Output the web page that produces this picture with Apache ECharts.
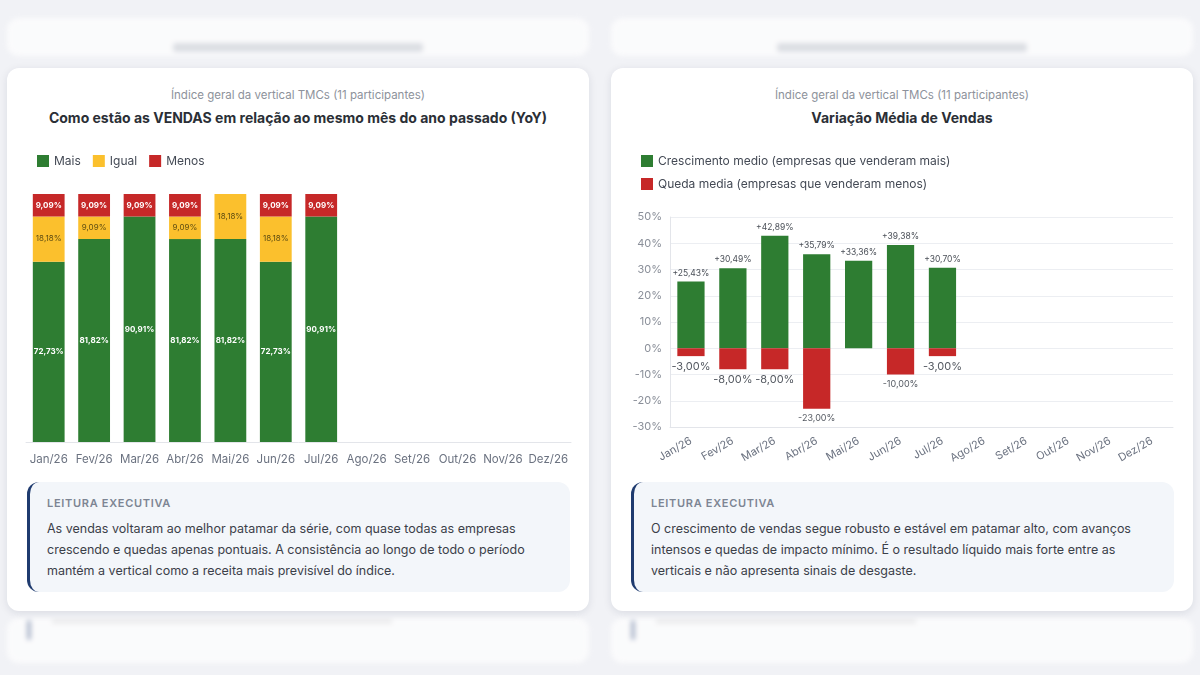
<!DOCTYPE html>
<html><head><meta charset="utf-8">
<script src="https://cdn.jsdelivr.net/npm/echarts@6/dist/echarts.min.js"></script>
<style>
html,body{margin:0;padding:0;width:1200px;height:675px;overflow:hidden;background:#f1f2f6;font-family:Inter,"Noto Sans",sans-serif;}
.ghost{position:absolute;background:#fff;border-radius:12px;opacity:.7;filter:blur(2.5px);}
.ghost .t{position:absolute;left:50%;transform:translateX(-50%);width:250px;height:9px;background:#d3d6dc;border-radius:3px;}
.card{position:absolute;top:68px;width:582px;height:543px;background:#fff;border-radius:12px;box-shadow:0 2px 8px rgba(20,30,60,.10);}
.sub{position:absolute;top:20px;left:0;width:100%;text-align:center;font-size:11.5px;color:#8d929b;}
.title{position:absolute;top:41px;left:0;width:100%;text-align:center;font-size:14px;font-weight:700;color:#2b2f36;}
.chart{position:absolute;left:0;top:75px;width:582px;height:330px;}
.exec{position:absolute;left:20px;top:414px;width:543px;height:110px;box-sizing:border-box;background:#f3f6fa;border-left:3px solid #1f3b6f;border-radius:12px;padding:14px 20px 0 17px;}
.exec .h{font-size:11px;font-weight:600;letter-spacing:.7px;color:#7d8593;margin-bottom:8px;}
.exec .p{font-size:12.5px;line-height:21px;color:#3b4049;}
</style></head><body>
<div class="ghost" style="left:7px;top:18px;width:582px;height:38px"><div class="t" style="top:25px"></div></div>
<div class="ghost" style="left:611px;top:18px;width:582px;height:38px"><div class="t" style="top:25px"></div></div>
<div class="ghost" style="left:7px;top:618px;width:582px;height:45px"><div style="position:absolute;left:20px;top:2px;width:4px;height:20px;background:#1f3b6f;opacity:.5;border-radius:2px"></div><div style="position:absolute;left:45px;top:2px;width:340px;height:3px;background:#ddd"></div></div>
<div class="ghost" style="left:611px;top:618px;width:582px;height:45px"><div style="position:absolute;left:20px;top:2px;width:4px;height:20px;background:#1f3b6f;opacity:.5;border-radius:2px"></div><div style="position:absolute;left:45px;top:2px;width:260px;height:3px;background:#ddd"></div></div>

<div class="card" style="left:7px">
  <div class="sub">Índice geral da vertical TMCs (11 participantes)</div>
  <div class="title">Como estão as VENDAS em relação ao mesmo mês do ano passado (YoY)</div>
  <div class="chart" id="c1"></div>
  <div class="exec"><div class="h">LEITURA EXECUTIVA</div><div class="p">As vendas voltaram ao melhor patamar da série, com quase todas as empresas crescendo e quedas apenas pontuais. A consistência ao longo de todo o período mantém a vertical como a receita mais previsível do índice.</div></div>
</div>
<div class="card" style="left:611px">
  <div class="sub">Índice geral da vertical TMCs (11 participantes)</div>
  <div class="title">Variação Média de Vendas</div>
  <div class="chart" id="c2"></div>
  <div class="exec"><div class="h">LEITURA EXECUTIVA</div><div class="p">O crescimento de vendas segue robusto e estável em patamar alto, com avanços intensos e quedas de impacto mínimo. É o resultado líquido mais forte entre as verticais e não apresenta sinais de desgaste.</div></div>
</div>
<script>
const months = ['Jan/26','Fev/26','Mar/26','Abr/26','Mai/26','Jun/26','Jul/26','Ago/26','Set/26','Out/26','Nov/26','Dez/26'];
const mais  = [72.73, 81.82, 90.91, 81.82, 81.82, 72.73, 90.91];
const igual = [18.18, 9.09, null, 9.09, 18.18, 18.18, null];
const menos = [9.09, 9.09, 9.09, 9.09, null, 9.09, 9.09];
const crescimento = [25.43, 30.49, 42.89, 35.79, 33.36, 39.38, 30.70];
const queda = [-3.00, -8.00, -8.00, -23.00, null, -10.00, -3.00];
const quedaLabelSize = [11, 11, 11, 9, 9, 9, 11];

const GREEN='#2e7d32', YELLOW='#fbc02d', RED='#c62828';
const fmt = v => v.toFixed(2).replace('.', ',') + '%';
const FONT = 'Inter';

const c1 = echarts.init(document.getElementById('c1'));
c1.setOption({
  animation:false,
  textStyle:{fontFamily:FONT},
  legend:{left:25, top:7, itemWidth:12, itemHeight:12, itemGap:12, icon:'rect',
    textStyle:{fontSize:12,color:'#444a55',fontFamily:FONT}},
  grid:{left:19, right:18, top:51, bottom:31},
  xAxis:{type:'category', data:months, axisTick:{show:false},
    axisLine:{lineStyle:{color:'#e3e5ea'}},
    axisLabel:{color:'#6b7280', fontSize:11.5, margin:12, interval:0}},
  yAxis:{type:'value', min:0, max:100, show:false},
  series:[
    {name:'Mais', type:'bar', stack:'s', data:mais, barWidth:'70%', itemStyle:{color:GREEN},
     label:{show:true, position:'inside', color:'#fff', fontSize:8, fontWeight:'bold', formatter:p=>fmt(p.value)}},
    {name:'Igual', type:'bar', stack:'s', data:igual, itemStyle:{color:YELLOW},
     label:{show:true, position:'inside', color:'#5e4c12', fontSize:8, formatter:p=>fmt(p.value)}},
    {name:'Menos', type:'bar', stack:'s', data:menos, itemStyle:{color:RED},
     label:{show:true, position:'inside', color:'#fff', fontSize:8, fontWeight:'bold', formatter:p=>fmt(p.value)}}
  ]
});

const c2 = echarts.init(document.getElementById('c2'));
c2.setOption({
  animation:false,
  textStyle:{fontFamily:FONT},
  legend:{left:25, top:7, orient:'vertical', itemWidth:12, itemHeight:12, itemGap:11, icon:'rect',
    textStyle:{fontSize:12,color:'#444a55',fontFamily:FONT}},
  grid:{left:59, right:20, top:74, bottom:46},
  xAxis:{type:'category', data:months, axisTick:{show:false},
    axisLine:{onZero:false, lineStyle:{color:'#e3e5ea'}},
    axisLabel:{color:'#6b7280', fontSize:11, rotate:30, margin:13, interval:0}},
  yAxis:{type:'value', min:-30, max:50, interval:10,
    axisLine:{show:true, lineStyle:{color:'#e3e5ea'}},
    splitLine:{lineStyle:{color:'#eceef2'}},
    axisLabel:{color:'#8a8f99', fontSize:11, formatter:v=>v+'%'}},
  series:[
    {name:'Crescimento medio (empresas que venderam mais)', type:'bar', data:crescimento, barWidth:'65%', barGap:'-100%',
     itemStyle:{color:GREEN},
     label:{show:true, position:'top', color:'#4b5058', fontSize:8.5, distance:4, formatter:p=>'+'+fmt(p.value)}},
    {name:'Queda media (empresas que venderam menos)', type:'bar', barWidth:'65%',
     data:queda.map((v,i)=> v===null?null:{value:v, label:{fontSize:quedaLabelSize[i]}}),
     itemStyle:{color:RED},
     label:{show:true, position:'bottom', color:'#555a62', distance:5, formatter:p=>fmt(p.value)}}
  ]
});
</script>
</body></html>
